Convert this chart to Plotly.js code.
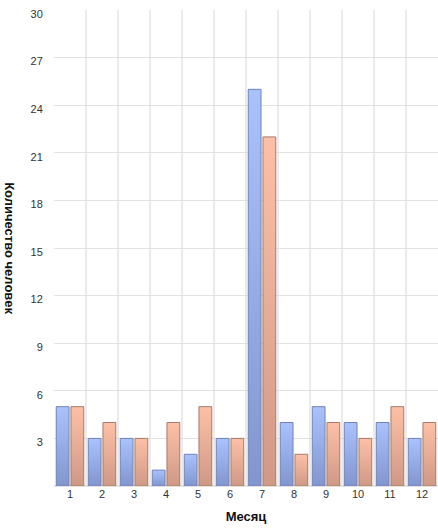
<!DOCTYPE html>
<html>
<head>
<meta charset="utf-8">
<script src="https://cdn.plot.ly/plotly-3.0.1.min.js"></script>
<style>html,body{margin:0;padding:0;background:#fff;}#chart{width:438px;height:530px;}</style>
</head>
<body>
<div id="chart"></div>
<script>
const months = [1, 2, 3, 4, 5, 6, 7, 8, 9, 10, 11, 12];
const monthLabels = ["1", "2", "3", "4", "5", "6", "7", "8", "9", "10", "11", "12"];
const seriesA = [5, 3, 3, 1, 2, 3, 25, 4, 5, 4, 4, 3];
const seriesB = [5, 4, 3, 4, 5, 3, 22, 2, 4, 3, 5, 4];
const yTicks = [3, 6, 9, 12, 15, 18, 21, 24, 27, 30];
const boundaries = months.map(m => m - 0.5).concat([months[months.length - 1] + 0.5]);

const traces = [
  {type: 'bar', x: months, y: seriesA, name: 'A',
   marker: {color: '#94abe4', line: {color: '#6f83b8', width: 1}}, hoverinfo: 'none'},
  {type: 'bar', x: months, y: seriesB, name: 'B',
   marker: {color: '#e6ad95', line: {color: '#a8796a', width: 1}}, hoverinfo: 'none'}
];

const layout = {
  width: 438, height: 530,
  margin: {l: 54, r: 0, t: 10, b: 44},
  paper_bgcolor: '#ffffff', plot_bgcolor: '#ffffff',
  showlegend: false,
  barmode: 'group', bargap: 0.08, bargroupgap: 0.13,
  font: {family: 'Liberation Sans, Arial, sans-serif', size: 11, color: '#333'},
  xaxis: {
    range: [0.5, 12.5], tickmode: 'array', tickvals: months, ticktext: monthLabels,
    showgrid: false, zeroline: false, ticks: '', ticklen: 0,
    tickfont: {size: 11, color: '#333'},
    minor: {tickmode: 'array', tickvals: boundaries, showgrid: true, gridcolor: '#ebebeb', gridwidth: 2, ticks: ''},
    title: {text: '<b>Месяц</b>', font: {size: 13, color: '#111'}, standoff: 12}
  },
  yaxis: {
    range: [0, 30], tickmode: 'array', tickvals: yTicks,
    showgrid: true, gridcolor: '#e2e2e2', gridwidth: 1,
    zeroline: true, zerolinecolor: '#e2e2e2', zerolinewidth: 2,
    ticks: 'outside', ticklen: 8, tickcolor: 'rgba(0,0,0,0)',
    ticklabelshift: 4,
    tickfont: {size: 11, color: '#333'}
  },
  annotations: [{
    text: '<b>Количество человек</b>', textangle: 90,
    xref: 'paper', yref: 'paper', x: -0.115, y: 0.5, xanchor: 'center', yanchor: 'middle',
    showarrow: false, font: {size: 13, color: '#111'}
  }]
};

Plotly.newPlot('chart', traces, layout, {displayModeBar: false, staticPlot: true}).then(function (gd) {
  const svg = gd.querySelector('svg.main-svg');
  const ns = 'http://www.w3.org/2000/svg';
  let defs = svg.querySelector('defs');
  if (!defs) { defs = document.createElementNS(ns, 'defs'); svg.insertBefore(defs, svg.firstChild); }
  const grads = [['gA', '#aac2fd', '#8196cc'], ['gB', '#fdc0a6', '#cf9986']];
  grads.forEach(function (g) {
    const lg = document.createElementNS(ns, 'linearGradient');
    lg.setAttribute('id', g[0]); lg.setAttribute('x1', '0'); lg.setAttribute('y1', '0');
    lg.setAttribute('x2', '0'); lg.setAttribute('y2', '1');
    [[0, g[1]], [1, g[2]]].forEach(function (s) {
      const st = document.createElementNS(ns, 'stop');
      st.setAttribute('offset', s[0]); st.setAttribute('stop-color', s[1]);
      lg.appendChild(st);
    });
    defs.appendChild(lg);
  });
  const tr = gd.querySelectorAll('.barlayer .trace');
  tr.forEach(function (t, i) {
    t.querySelectorAll('path').forEach(function (p) { p.style.fill = 'url(#' + grads[i][0] + ')'; });
  });
});
</script>
</body>
</html>
